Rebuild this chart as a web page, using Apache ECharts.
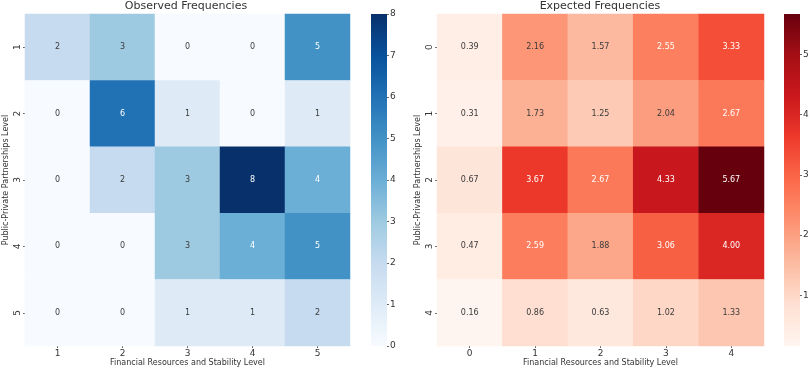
<!DOCTYPE html>
<html>
<head>
<meta charset="utf-8">
<script src="https://cdn.jsdelivr.net/npm/echarts@6/dist/echarts.min.js"></script>
<style>
	html, body { margin: 0; padding: 0; background: #fff; }
	#main { width: 810px; height: 370px; }
</style>
</head>
<body>
<div id="main"></div>
<script>
// observed table (rows = partnerships level 1..5, cols = financial level 1..5)
var obsX = ['1', '2', '3', '4', '5'];
var obsY = ['1', '2', '3', '4', '5'];
var observed = [
	[2, 3, 0, 0, 5],
	[0, 6, 1, 0, 1],
	[0, 2, 3, 8, 4],
	[0, 0, 3, 4, 5],
	[0, 0, 1, 1, 2]
];
var obsTicks = [0, 1, 2, 3, 4, 5, 6, 7, 8];

// expected table (rows 0..4, cols 0..4)
var expX = ['0', '1', '2', '3', '4'];
var expY = ['0', '1', '2', '3', '4'];
var expected = [
	[0.39, 2.16, 1.57, 2.55, 3.33],
	[0.31, 1.73, 1.25, 2.04, 2.67],
	[0.67, 3.67, 2.67, 4.33, 5.67],
	[0.47, 2.59, 1.88, 3.06, 4.00],
	[0.16, 0.86, 0.63, 1.02, 1.33]
];
var expTicks = [1, 2, 3, 4, 5];

var BLUES = ['#f7fbff', '#deebf7', '#c6dbef', '#9ecae1', '#6baed6', '#4292c6', '#2171b5', '#08519c', '#08306b'];
var REDS = ['#fff5f0', '#fee0d2', '#fcbba1', '#fc9272', '#fb6a4a', '#ef3b2c', '#cb181d', '#a50f15', '#67000d'];
var FONT = 'DejaVu Sans';
var TXT = '#333';

var flatten = function(table, lightFrom){
	var out = [];
	for (var r = 0; r < table.length; r++) {
		for (var c = 0; c < table[r].length; c++) {
			var v = table[r][c];
			out.push({
				value: [c, r, v],
				label: { color: v >= lightFrom ? '#fff' : '#3a3a3a' }
			});
		}
	}
	return out;
};

var range = function(table){
	var all = [].concat.apply([], table);
	return [Math.min.apply(null, all), Math.max.apply(null, all)];
};

var obsRange = [0, 8];
var expRange = range(expected);

var gradient = function(colors){
	var stops = colors.map(function(c, i){
		return { offset: 1 - i / (colors.length - 1), color: c };
	});
	return new echarts.graphic.LinearGradient(0, 0, 0, 1, stops);
};

var catAxis = function(idx, data, isY, name){
	return {
		type: 'category', gridIndex: idx, data: data, inverse: isY,
		position: isY ? 'left' : 'bottom',
		name: name, nameLocation: 'middle', nameGap: isY ? 15 : 13, nameMoveOverlap: false,
		nameTextStyle: { fontFamily: FONT, fontSize: 8, color: TXT },
		axisLine: { show: false }, splitLine: { show: false },
		axisTick: { show: true, alignWithLabel: true, length: 2, lineStyle: { color: '#666' } },
		axisLabel: { fontFamily: FONT, fontSize: 9, color: TXT, rotate: isY ? 90 : 0, margin: isY ? 3 : 3 }
	};
};

var barAxisY = function(idx, r, ticks){
	return {
		type: 'value', gridIndex: idx, min: r[0], max: r[1], position: 'right',
		axisLine: { show: false }, splitLine: { show: false },
		axisTick: { show: true, length: 2, customValues: ticks, lineStyle: { color: '#666' } },
		axisLabel: { fontFamily: FONT, fontSize: 9, color: TXT, margin: 3, customValues: ticks }
	};
};

var gridBox = function(left, width){
	return { left: left, top: 14, width: width, height: 332, outerBoundsMode: 'none', containLabel: false };
};

var option = {
	backgroundColor: '#fff',
	animation: false,
	title: [
		{ text: 'Observed Frequencies', left: 186, top: 1, padding: 0, textAlign: 'center',
		  textStyle: { fontFamily: FONT, fontSize: 11, fontWeight: 'normal', color: TXT } },
		{ text: 'Expected Frequencies', left: 600, top: 1, padding: 0, textAlign: 'center',
		  textStyle: { fontFamily: FONT, fontSize: 11, fontWeight: 'normal', color: TXT } }
	],
	grid: [
		gridBox(25, 325),
		gridBox(437, 327),
		gridBox(371, 16),
		gridBox(784, 16)
	],
	xAxis: [
		catAxis(0, obsX, false, 'Financial Resources and Stability Level'),
		catAxis(1, expX, false, 'Financial Resources and Stability Level'),
		{ type: 'category', gridIndex: 2, data: ['c'], show: false },
		{ type: 'category', gridIndex: 3, data: ['c'], show: false }
	],
	yAxis: [
		catAxis(0, obsY, true, 'Public-Private Partnerships Level'),
		catAxis(1, expY, true, 'Public-Private Partnerships Level'),
		barAxisY(2, obsRange, obsTicks),
		barAxisY(3, expRange, expTicks)
	],
	visualMap: [
		{ show: false, seriesIndex: 0, min: obsRange[0], max: obsRange[1], dimension: 2, inRange: { color: BLUES } },
		{ show: false, seriesIndex: 1, min: expRange[0], max: expRange[1], dimension: 2, inRange: { color: REDS } }
	],
	series: [
		{
			type: 'heatmap', xAxisIndex: 0, yAxisIndex: 0,
			data: flatten(observed, 4),
			label: { show: true, fontFamily: FONT, fontSize: 8,
				formatter: function(p){ return p.value[2]; } }
		},
		{
			type: 'heatmap', xAxisIndex: 1, yAxisIndex: 1,
			data: flatten(expected, 2.3),
			label: { show: true, fontFamily: FONT, fontSize: 8,
				formatter: function(p){ return p.value[2].toFixed(2); } }
		},
		{
			type: 'bar', xAxisIndex: 2, yAxisIndex: 2, barWidth: '100%', clip: true,
			data: [obsRange[1]], itemStyle: { color: gradient(BLUES) }, silent: true
		},
		{
			type: 'bar', xAxisIndex: 3, yAxisIndex: 3, barWidth: '100%', clip: true,
			data: [expRange[1]], itemStyle: { color: gradient(REDS) }, silent: true
		}
	]
};

var chart = echarts.init(document.getElementById('main'));
chart.setOption(option);
</script>
</body>
</html>
